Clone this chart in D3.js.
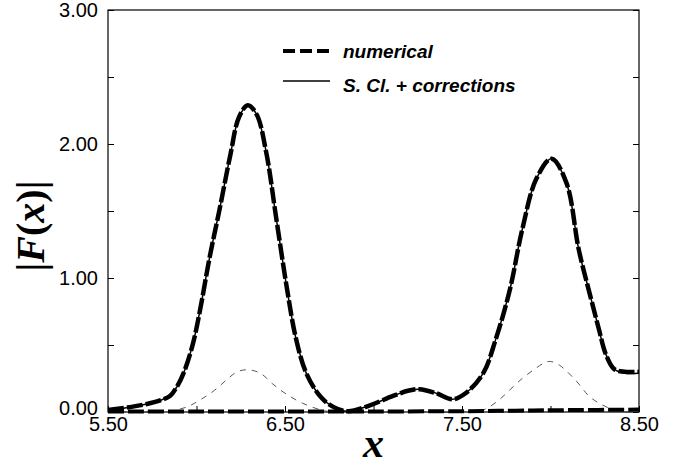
<!DOCTYPE html>
<html>
<head>
<meta charset="utf-8">
<script src="https://cdn.jsdelivr.net/npm/d3@7"></script>
<style>
  body { margin: 0; background: #fff; }
  svg { display: block; }
</style>
</head>
<body>
<svg id="chart" width="681" height="468"></svg>
<script>
// data
const numX = [5.50, 5.64, 5.72, 5.79, 5.85, 5.89, 5.93, 5.98, 6.02, 6.075, 6.13, 6.19, 6.24, 6.29, 6.34, 6.395, 6.45, 6.51, 6.56, 6.62, 6.70, 6.77, 6.855, 6.98, 7.11, 7.20, 7.26, 7.354, 7.447, 7.52, 7.62, 7.69, 7.77, 7.84, 7.92, 8.006, 8.09, 8.16, 8.23, 8.275, 8.31, 8.36, 8.42, 8.50];
const numY = [0.015, 0.04, 0.06, 0.085, 0.12, 0.19, 0.30, 0.51, 0.76, 1.16, 1.51, 1.91, 2.20, 2.29, 2.22, 1.93, 1.45, 0.93, 0.56, 0.29, 0.115, 0.04, 0.005, 0.05, 0.12, 0.16, 0.17, 0.14, 0.095, 0.14, 0.29, 0.54, 0.91, 1.36, 1.74, 1.89, 1.71, 1.21, 0.84, 0.61, 0.44, 0.32, 0.30, 0.30];
const sclY = [0.015, 0.04, 0.06, 0.085, 0.12, 0.19, 0.30, 0.51, 0.76, 1.16, 1.51, 1.91, 2.20, 2.29, 2.22, 1.93, 1.45, 0.93, 0.56, 0.29, 0.115, 0.04, 0.005, 0.05, 0.12, 0.16, 0.17, 0.14, 0.095, 0.14, 0.29, 0.54, 0.91, 1.36, 1.74, 1.89, 1.71, 1.21, 0.84, 0.61, 0.44, 0.32, 0.29, 0.29];

const thinX = [5.50, 5.80, 5.85, 5.95, 6.02, 6.10, 6.17, 6.23, 6.29, 6.36, 6.43, 6.50, 6.60, 6.72, 6.80, 7.20, 7.55, 7.62, 7.70, 7.77, 7.84, 7.90, 7.97, 8.00, 8.05, 8.14, 8.22, 8.27, 8.32, 8.38, 8.50];
const thinY = [0.0, 0.0, 0.005, 0.04, 0.09, 0.16, 0.24, 0.30, 0.315, 0.29, 0.21, 0.14, 0.065, 0.01, 0.0, 0.0, 0.0, 0.015, 0.08, 0.165, 0.25, 0.31, 0.37, 0.377, 0.35, 0.24, 0.115, 0.07, 0.035, 0.005, 0.0];

const baseX = [5.50, 6.00, 6.50, 7.00, 7.50, 7.80, 8.10, 8.50];
const baseY = [0.004, 0.004, 0.004, 0.004, 0.006, 0.01, 0.014, 0.018];

const xTicks = [5.5, 6.5, 7.5, 8.5];
const yTicks = [0, 1, 2, 3];
const minorX = [6.0, 7.0, 8.0];
const minorY = [0.5, 1.5, 2.5];

const legendLabels = ['numerical', 'S. Cl. + corrections'];

const svg = d3.select('#chart');
const plot = { left: 108, right: 639, top: 10, bottom: 412 };

const x = d3.scaleLinear().domain([5.5, 8.5]).range([plot.left, plot.right]);
const y = d3.scaleLinear().domain([0, 3]).range([plot.bottom, plot.top]);

const tickFont = 'Arial, "Liberation Sans", Helvetica, sans-serif';
const serif = '"Liberation Serif", "DejaVu Serif", serif';

// frame
svg.append('rect')
    .attr('x', plot.left).attr('y', plot.top)
    .attr('width', plot.right - plot.left).attr('height', plot.bottom - plot.top)
    .attr('fill', 'none').attr('stroke', '#000').attr('stroke-width', 1.2);

// left axis, ticks pointing inward
const yAxis = d3.axisLeft(y).tickValues(yTicks.concat(minorY)).tickSize(-6)
    .tickFormat(d => yTicks.includes(d) ? d3.format('.2f')(d) : '');
const gy = svg.append('g').attr('transform', `translate(${plot.left},0)`).call(yAxis);
gy.select('.domain').remove();
gy.selectAll('.tick text')
    .attr('x', -10)
    .attr('dy', d => d === 0 ? '0.1em' : '0.32em')
    .style('font-family', tickFont).style('font-size', '20px').attr('fill', '#000');

// right axis ticks
const gr = svg.append('g').attr('transform', `translate(${plot.right},0)`)
    .call(d3.axisRight(y).tickValues(yTicks.concat(minorY)).tickSize(-6).tickFormat(''));
gr.select('.domain').remove();

// bottom axis
const xAxis = d3.axisBottom(x).tickValues(xTicks.concat(minorX)).tickSize(-6)
    .tickFormat(d => xTicks.includes(d) ? d3.format('.2f')(d) : '');
const gx = svg.append('g').attr('transform', `translate(0,${plot.bottom})`).call(xAxis);
gx.select('.domain').remove();
gx.selectAll('.tick text')
    .attr('y', 5)
    .style('font-family', tickFont).style('font-size', '20px').attr('fill', '#000');

// curves
const line = d3.line()
    .x(d => x(d[0]))
    .y(d => y(d[1]))
    .curve(d3.curveCatmullRom.alpha(0.5));

svg.append('path')
    .datum(d3.zip(thinX, thinY))
    .attr('d', line)
    .attr('fill', 'none').attr('stroke', '#444').attr('stroke-width', 0.9)
    .attr('stroke-dasharray', '6,6');

svg.append('path')
    .datum(d3.zip(baseX, baseY))
    .attr('d', line)
    .attr('fill', 'none').attr('stroke', '#000').attr('stroke-width', 4)
    .attr('stroke-dasharray', '16,4');

svg.append('path')
    .datum(d3.zip(numX, numY))
    .attr('d', line)
    .attr('fill', 'none').attr('stroke', '#000').attr('stroke-width', 4.5)
    .attr('stroke-dasharray', '16,3');

svg.append('path')
    .datum(d3.zip(numX, sclY))
    .attr('d', line)
    .attr('fill', 'none').attr('stroke', '#000').attr('stroke-width', 1.5);

// legend
const legend = svg.append('g');
legend.append('line')
    .attr('x1', 283).attr('x2', 332).attr('y1', 51).attr('y2', 51)
    .attr('stroke', '#000').attr('stroke-width', 4).attr('stroke-dasharray', '12,5');
legend.append('line')
    .attr('x1', 283).attr('x2', 330).attr('y1', 81).attr('y2', 81)
    .attr('stroke', '#000').attr('stroke-width', 1.3);
legend.selectAll('text')
    .data(legendLabels)
    .enter()
    .append('text')
    .attr('x', 343)
    .attr('y', (d, i) => 58 + i * 34)
    .style('font-family', tickFont)
    .style('font-size', '19px')
    .style('font-weight', 'bold')
    .style('font-style', 'italic')
    .text(d => d);

// axis titles
svg.append('text')
    .attr('x', (plot.left + plot.right) / 2)
    .attr('y', 457)
    .attr('text-anchor', 'middle')
    .style('font-family', serif)
    .style('font-size', '42px').style('font-weight', 'bold').style('font-style', 'italic')
    .text('x');

svg.append('text')
    .attr('transform', 'translate(44,226) rotate(-90)')
    .attr('text-anchor', 'middle')
    .style('font-family', serif)
    .style('font-size', '40px').style('font-weight', 'bold')
    .html('|<tspan font-style="italic">F</tspan>(<tspan font-style="italic">x</tspan>)|');
</script>
</body>
</html>
